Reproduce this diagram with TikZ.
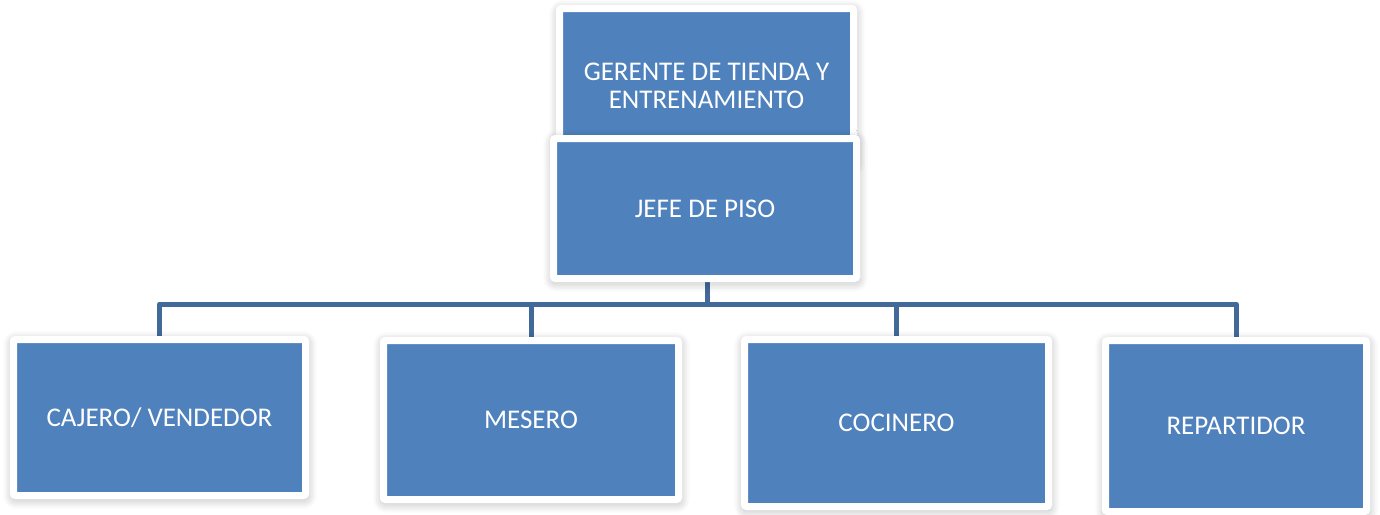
\documentclass[tikz,border=0pt]{standalone}
\usepackage{fontspec}
\setmainfont{Carlito}
\usepackage{tikz}
\usetikzlibrary{shadows.blur,backgrounds}
\definecolor{boxblue}{HTML}{4F81BD}
\definecolor{linkblue}{HTML}{41699A}
\begin{document}
\begin{tikzpicture}[x=1pt,y=-1pt,
    puesto/.style={fill=boxblue,draw=white,line width=7pt,rounded corners=2pt,inner sep=0pt,
        text=white,align=center,font=\fontsize{27}{28}\selectfont,
        blur shadow={shadow xshift=0.5pt,shadow yshift=-2.5pt,shadow blur radius=11pt,
            shadow blur steps=8,shadow opacity=35}},
    enlace/.style={draw=linkblue,line width=5pt,line join=round}]
                \useasboundingbox (0,0) rectangle (1380,514);
                \node [puesto,minimum width=294pt,minimum height=155pt] (gerente) at (706.5,86) {GERENTE DE TIENDA Y\\ENTRENAMIENTO};
                \node [puesto,minimum width=303pt,minimum height=140pt] (jefe) at (705,208.5) {JEFE DE PISO};
                \node [puesto,minimum width=292pt,minimum height=156pt] (cajero) at (159.5,417.5) {CAJERO/ VENDEDOR};
                \node [puesto,minimum width=295pt,minimum height=159pt] (mesero) at (531,420) {MESERO};
                \node [puesto,minimum width=304pt,minimum height=167pt] (cocinero) at (896.5,423) {COCINERO};
                \node [puesto,minimum width=261pt,minimum height=171pt] (repartidor) at (1236,426) {REPARTIDOR};
                \coordinate (bus) at (707,304);
                \begin{scope}[on background layer]
                    \draw [enlace] (bus) -- (bus |- jefe.south);
                    \foreach \p in {cajero,mesero,cocinero,repartidor}
                        \draw [enlace] (bus) -| (\p.north);
                \end{scope}
            \end{tikzpicture}
\end{document}
